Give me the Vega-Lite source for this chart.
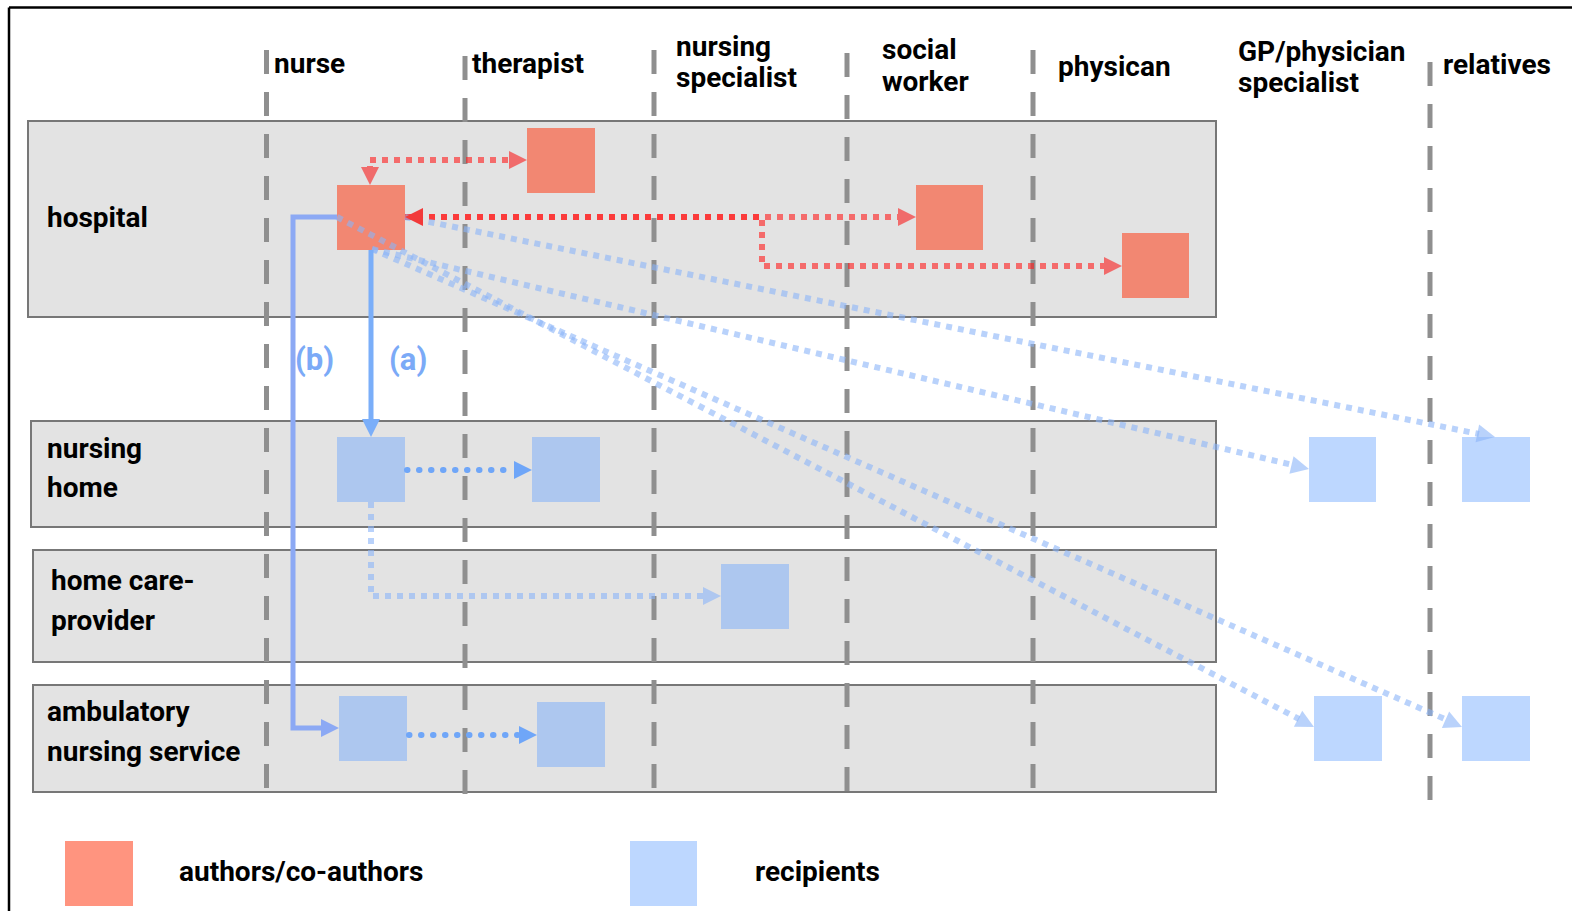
{
  "$schema": "https://vega.github.io/schema/vega-lite/v6.json",
  "width": 1572,
  "height": 911,
  "autosize": {"type": "none"},
  "padding": 0,
  "background": "white",
  "config": {"view": {"stroke": null}},
  "datasets": {
    "frame": [
      {"x": 9, "y": 7.5, "x2": 1572, "y2": 7.5},
      {"x": 9, "y": 7.5, "x2": 9, "y2": 911}
    ],
    "lanes": [
      {"lane": "hospital", "x": 28, "x2": 1216, "y": 121, "y2": 317},
      {"lane": "nursing home", "x": 31, "x2": 1216, "y": 421, "y2": 527},
      {"lane": "home care-provider", "x": 33, "x2": 1216, "y": 550, "y2": 662},
      {"lane": "ambulatory nursing service", "x": 33, "x2": 1216, "y": 685, "y2": 792}
    ],
    "roles": [
      {"role": "nurse", "x": 266.5, "y": 50, "y2": 788},
      {"role": "therapist", "x": 465, "y": 56, "y2": 794},
      {"role": "nursing specialist", "x": 654, "y": 50, "y2": 788},
      {"role": "social worker", "x": 847, "y": 53, "y2": 791},
      {"role": "physican", "x": 1033, "y": 50, "y2": 788},
      {"role": "relatives", "x": 1430, "y": 62, "y2": 800}
    ],
    "boxes": [
      {"role": "author", "item": "hospital therapist", "x": 527, "x2": 595, "y": 128, "y2": 193},
      {"role": "author", "item": "hospital nurse", "x": 337, "x2": 405, "y": 185, "y2": 250},
      {"role": "author", "item": "hospital social worker", "x": 916, "x2": 983, "y": 185, "y2": 250},
      {"role": "author", "item": "hospital physican", "x": 1122, "x2": 1189, "y": 233, "y2": 298},
      {"role": "author", "item": "legend", "x": 65, "x2": 133, "y": 841, "y2": 906},
      {"role": "recipient", "item": "nursing home nurse", "x": 337, "x2": 405, "y": 437, "y2": 502},
      {"role": "recipient", "item": "nursing home therapist", "x": 532, "x2": 600, "y": 437, "y2": 502},
      {"role": "recipient", "item": "home care nursing specialist", "x": 721, "x2": 789, "y": 564, "y2": 629},
      {"role": "recipient", "item": "ambulatory nurse", "x": 339, "x2": 407, "y": 696, "y2": 761},
      {"role": "recipient", "item": "ambulatory therapist", "x": 537, "x2": 605, "y": 702, "y2": 767},
      {"role": "recipient", "item": "GP row 1", "x": 1309, "x2": 1376, "y": 437, "y2": 502},
      {"role": "recipient", "item": "relatives row 1", "x": 1462, "x2": 1530, "y": 437, "y2": 502},
      {"role": "recipient", "item": "GP row 4", "x": 1314, "x2": 1382, "y": 696, "y2": 761},
      {"role": "recipient", "item": "relatives row 4", "x": 1462, "x2": 1530, "y": 696, "y2": 761},
      {"role": "recipient", "item": "legend", "x": 630, "x2": 697, "y": 841, "y2": 906}
    ],
    "paths": [
      {"style": "red", "id": "r1", "ord": 1, "x": 370, "y": 172},
      {"style": "red", "id": "r1", "ord": 2, "x": 370, "y": 160},
      {"style": "red", "id": "r1", "ord": 3, "x": 512, "y": 160},
      {"style": "red", "id": "r2", "ord": 1, "x": 405, "y": 217},
      {"style": "red", "id": "r2", "ord": 2, "x": 900, "y": 217},
      {"style": "red", "id": "r3", "ord": 1, "x": 405, "y": 217},
      {"style": "red", "id": "r3", "ord": 2, "x": 762, "y": 217},
      {"style": "red", "id": "r3", "ord": 3, "x": 762, "y": 266},
      {"style": "red", "id": "r3", "ord": 4, "x": 1106, "y": 266},
      {"style": "light", "id": "d1", "ord": 1, "x": 405, "y": 217},
      {"style": "light", "id": "d1", "ord": 2, "x": 1479, "y": 434},
      {"style": "light", "id": "d2", "ord": 1, "x": 372, "y": 249},
      {"style": "light", "id": "d2", "ord": 2, "x": 1293, "y": 465},
      {"style": "light", "id": "d3", "ord": 1, "x": 337, "y": 217},
      {"style": "light", "id": "d3", "ord": 2, "x": 1299, "y": 719},
      {"style": "light", "id": "d4", "ord": 1, "x": 372, "y": 249},
      {"style": "light", "id": "d4", "ord": 2, "x": 1447, "y": 720},
      {"style": "light", "id": "hc", "ord": 1, "x": 371, "y": 502},
      {"style": "light", "id": "hc", "ord": 2, "x": 371, "y": 596},
      {"style": "light", "id": "hc", "ord": 3, "x": 704, "y": 596},
      {"style": "round", "id": "nh", "ord": 1, "x": 407, "y": 470},
      {"style": "round", "id": "nh", "ord": 2, "x": 515, "y": 470},
      {"style": "round", "id": "amb", "ord": 1, "x": 409, "y": 735},
      {"style": "round", "id": "amb", "ord": 2, "x": 520, "y": 735},
      {"style": "a", "id": "a", "ord": 1, "x": 371, "y": 250},
      {"style": "a", "id": "a", "ord": 2, "x": 371, "y": 425},
      {"style": "b", "id": "b", "ord": 1, "x": 337, "y": 217},
      {"style": "b", "id": "b", "ord": 2, "x": 293, "y": 217},
      {"style": "b", "id": "b", "ord": 3, "x": 293, "y": 728},
      {"style": "b", "id": "b", "ord": 4, "x": 327, "y": 728}
    ],
    "arrows": [
      {"kind": "red", "x": 370, "y": 185, "angle": 90},
      {"kind": "red", "x": 527, "y": 160, "angle": 0},
      {"kind": "redbright", "x": 405, "y": 217, "angle": 180},
      {"kind": "red", "x": 916, "y": 217, "angle": 0},
      {"kind": "red", "x": 1122, "y": 266, "angle": 0},
      {"kind": "a", "x": 371, "y": 437, "angle": 90},
      {"kind": "b", "x": 339, "y": 728, "angle": 0},
      {"kind": "round", "x": 532, "y": 470, "angle": 0},
      {"kind": "round", "x": 537, "y": 735, "angle": 0},
      {"kind": "light", "x": 721, "y": 596, "angle": 0},
      {"kind": "light", "x": 1495, "y": 437, "angle": 11.4},
      {"kind": "light", "x": 1309, "y": 469, "angle": 13.2},
      {"kind": "light", "x": 1314, "y": 727, "angle": 27.6},
      {"kind": "light", "x": 1462, "y": 727, "angle": 23.7}
    ],
    "labels": [
      {"label": "nurse", "x": 274, "y": 73},
      {"label": "therapist", "x": 472, "y": 73},
      {"label": "nursing", "x": 676, "y": 56},
      {"label": "specialist", "x": 676, "y": 87},
      {"label": "social", "x": 882, "y": 59},
      {"label": "worker", "x": 882, "y": 91},
      {"label": "physican", "x": 1058, "y": 76},
      {"label": "GP/physician", "x": 1238, "y": 61},
      {"label": "specialist", "x": 1238, "y": 92},
      {"label": "relatives", "x": 1443, "y": 74},
      {"label": "hospital", "x": 47, "y": 227},
      {"label": "nursing", "x": 47, "y": 458},
      {"label": "home", "x": 47, "y": 497},
      {"label": "home care-", "x": 51, "y": 590},
      {"label": "provider", "x": 51, "y": 630},
      {"label": "ambulatory", "x": 47, "y": 721},
      {"label": "nursing service", "x": 47, "y": 761},
      {"label": "authors/co-authors", "x": 179, "y": 881},
      {"label": "recipients", "x": 755, "y": 881}
    ],
    "pathlabels": [
      {"label": "(b)", "x": 295, "y": 370},
      {"label": "(a)", "x": 389, "y": 370}
    ]
  },
  "encoding": {
    "x": {"field": "x", "type": "quantitative", "scale": {"domain": [0, 1572], "nice": false, "zero": false}, "axis": null},
    "y": {"field": "y", "type": "quantitative", "scale": {"domain": [0, 911], "reverse": true, "nice": false, "zero": false}, "axis": null}
  },
  "layer": [
    {
      "data": {"name": "frame"},
      "mark": {"type": "rule", "color": "#000000", "strokeWidth": 2.5},
      "encoding": {"x2": {"field": "x2"}, "y2": {"field": "y2"}}
    },
    {
      "data": {"name": "lanes"},
      "mark": {"type": "rect", "fill": "#E3E3E3", "stroke": "#777777", "strokeWidth": 2},
      "encoding": {"x2": {"field": "x2"}, "y2": {"field": "y2"}}
    },
    {
      "data": {"name": "roles"},
      "mark": {"type": "rule", "color": "#8F8F8F", "strokeWidth": 5, "strokeDash": [24, 18], "strokeCap": "butt"},
      "encoding": {"y2": {"field": "y2"}}
    },
    {
      "data": {"name": "boxes"},
      "transform": [{"filter": "datum.role === 'author'"}],
      "mark": {"type": "rect", "fill": "#FF3912", "fillOpacity": 0.54, "strokeWidth": 0},
      "encoding": {"x2": {"field": "x2"}, "y2": {"field": "y2"}}
    },
    {
      "data": {"name": "boxes"},
      "transform": [{"filter": "datum.role === 'recipient'"}],
      "mark": {"type": "rect", "fill": "#65A2FF", "fillOpacity": 0.43, "strokeWidth": 0},
      "encoding": {"x2": {"field": "x2"}, "y2": {"field": "y2"}}
    },
    {
      "data": {"name": "paths"},
      "transform": [{"filter": "datum.style === 'red'"}],
      "mark": {"type": "line", "color": "#FF1A1A", "strokeOpacity": 0.6, "strokeWidth": 6, "strokeDash": [6, 6], "strokeCap": "butt"},
      "encoding": {"order": {"field": "ord", "type": "quantitative"}, "detail": {"field": "id"}}
    },
    {
      "data": {"name": "paths"},
      "transform": [{"filter": "datum.style === 'light'"}],
      "mark": {"type": "line", "color": "#8AB4F8", "strokeOpacity": 0.6, "strokeWidth": 6, "strokeDash": [6, 6], "strokeCap": "butt"},
      "encoding": {"order": {"field": "ord", "type": "quantitative"}, "detail": {"field": "id"}}
    },
    {
      "data": {"name": "paths"},
      "transform": [{"filter": "datum.style === 'round'"}],
      "mark": {"type": "line", "color": "#6FA6F8", "strokeWidth": 6, "strokeDash": [0.5, 11.5], "strokeCap": "round"},
      "encoding": {"order": {"field": "ord", "type": "quantitative"}, "detail": {"field": "id"}}
    },
    {
      "data": {"name": "paths"},
      "transform": [{"filter": "datum.style === 'a'"}],
      "mark": {"type": "line", "color": "#7AAEF9", "strokeWidth": 5},
      "encoding": {"order": {"field": "ord", "type": "quantitative"}, "detail": {"field": "id"}}
    },
    {
      "data": {"name": "paths"},
      "transform": [{"filter": "datum.style === 'b'"}],
      "mark": {"type": "line", "color": "#8CA9F4", "strokeWidth": 5, "strokeJoin": "miter"},
      "encoding": {"order": {"field": "ord", "type": "quantitative"}, "detail": {"field": "id"}}
    },
    {
      "data": {"name": "arrows"},
      "transform": [{"filter": "datum.kind !== 'light'"}],
      "mark": {"type": "point", "shape": "M0,0L-1,-0.5L-1,0.5Z", "filled": true, "size": 1296, "opacity": 1, "strokeWidth": 0},
      "encoding": {
        "angle": {"field": "angle", "type": "quantitative", "scale": null},
        "color": {"field": "kind", "type": "nominal", "legend": null,
          "scale": {"domain": ["red", "redbright", "a", "b", "round"], "range": ["#F06B6B", "#F23A3A", "#7AAEF9", "#8CA9F4", "#6FA6F8"]}}
      }
    },
    {
      "data": {"name": "arrows"},
      "transform": [{"filter": "datum.kind === 'light'"}],
      "mark": {"type": "point", "shape": "M0,0L-1,-0.5L-1,0.5Z", "filled": true, "size": 1296, "color": "#8AB4F8", "opacity": 0.6, "strokeWidth": 0},
      "encoding": {
        "angle": {"field": "angle", "type": "quantitative", "scale": null}
      }
    },
    {
      "data": {"name": "labels"},
      "mark": {"type": "text", "font": "Roboto", "fontWeight": "bold", "fontSize": 28, "align": "left", "baseline": "alphabetic", "color": "#000000"},
      "encoding": {"text": {"field": "label"}}
    },
    {
      "data": {"name": "pathlabels"},
      "mark": {"type": "text", "font": "Roboto", "fontWeight": "bold", "fontSize": 31, "align": "left", "baseline": "alphabetic", "color": "#7BAAF7"},
      "encoding": {"text": {"field": "label"}}
    }
  ]
}
